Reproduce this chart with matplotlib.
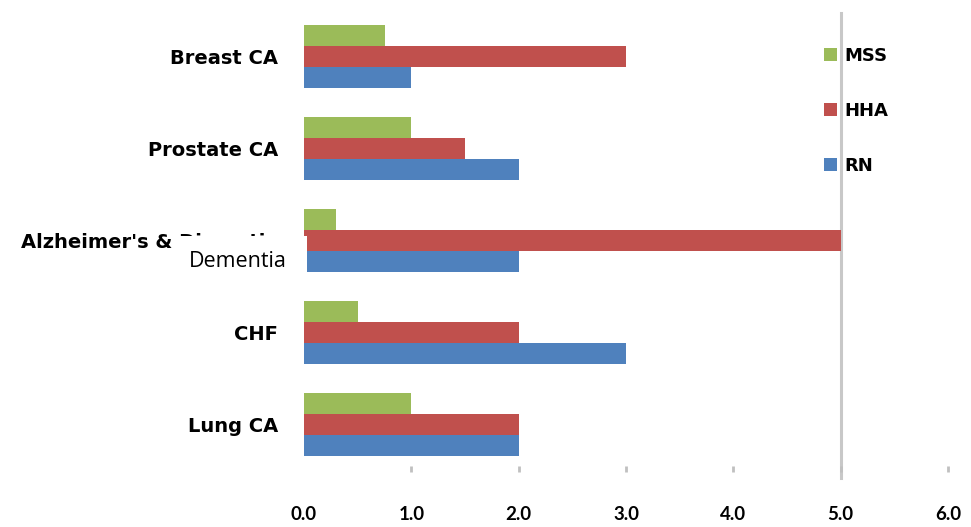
import numpy as np
import matplotlib
matplotlib.use("Agg")
import matplotlib.pyplot as plt
from matplotlib.patches import Rectangle

categories = ["Lung CA", "CHF", "Alzheimer's & Dimentia", "Prostate CA", "Breast CA"]
rn = [2.0, 3.0, 2.0, 2.0, 1.0]
hha = [2.0, 2.0, 5.0, 1.5, 3.0]
mss = [1.0, 0.5, 0.3, 1.0, 0.75]
xticks = [0, 1, 2, 3, 4, 5, 6]

blue = "#4F81BD"
red = "#C0504D"
green = "#9BBB59"

fig = plt.figure(figsize=(9.71, 5.27), dpi=100)
ax = fig.add_axes([304 / 971, 55 / 527, (948 - 304) / 971, (472 - 13) / 527])

y = np.arange(len(categories))
h = 0.228
ax.barh(y - h, rn, height=h, color=blue, label="RN")
ax.barh(y, hha, height=h, color=red, label="HHA")
ax.barh(y + h, mss, height=h, color=green, label="MSS")

ax.axvline(5, ymin=-0.012, ymax=1, color="#c8c8c8", lw=2.2, clip_on=False, zorder=0)

ax.set_xlim(0, 6)
ax.set_ylim(-0.52, 4.47)
for s in ax.spines.values():
    s.set_visible(False)

ax.set_xticks(xticks)
ax.set_xticklabels([f"{v:.1f}" for v in xticks], fontfamily="Lato", fontweight="bold", fontsize=13.5)
ax.tick_params(axis="x", direction="in", length=4, width=2, color="#c0c0c0", pad=24.5)
ax.xaxis.get_major_ticks()[0].tick1line.set_visible(False)

ax.set_yticks(y)
ax.set_yticklabels(categories, fontweight="bold", fontsize=14)
ax.tick_params(axis="y", length=0, pad=18.5)

handles, labels = ax.get_legend_handles_labels()
leg = ax.legend(handles[::-1], labels[::-1], loc="upper left",
                bbox_to_anchor=(815 / 971, 1 - 38 / 527), bbox_transform=fig.transFigure,
                frameon=False, borderpad=0, handlelength=0.7, handleheight=0.7,
                handletextpad=0.4, labelspacing=2.05,
                prop={"weight": "bold", "size": 13})

# the white box with "Dementia" over the clipped label
fig.add_artist(Rectangle((178 / 971, 1 - 278 / 527), 129 / 971, 42 / 527,
                         transform=fig.transFigure, facecolor="white", edgecolor="none", zorder=3))
fig.text(189 / 971, 1 - 267 / 527, "Dementia", fontfamily="Open Sans", fontsize=15.5,
         va="baseline", ha="left", zorder=4)

fig.savefig("out.png", dpi=100)
